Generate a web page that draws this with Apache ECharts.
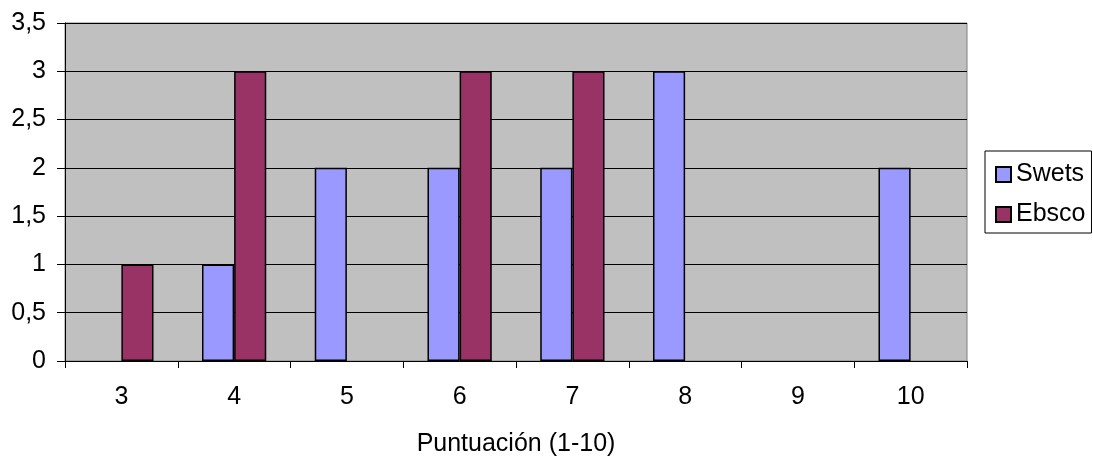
<!DOCTYPE html>
<html><head><meta charset="utf-8">
<script src="https://cdn.jsdelivr.net/npm/echarts@6/dist/echarts.min.js"></script>
<style>html,body{margin:0;padding:0;background:#fff}#c{width:1093px;height:462px}</style>
</head><body><div id="c"></div>
<script>
var categories = ['3','4','5','6','7','8','9','10'];
var swets = [0,1,2,2,2,3,0,2];
var ebsco = [1,3,0,3,3,0,0,0];
var yTicks = {min:0, max:3.5, interval:0.5};
var FONT = '"Liberation Sans", Arial, sans-serif';
var FS = 25;
function nz(a){return a.map(function(v){return v===0?null:v;});}
var chart = echarts.init(document.getElementById('c'));
chart.setOption({
  animation:false,
  grid:{left:65,right:126,top:23,bottom:98,show:true,backgroundColor:'#C0C0C0',borderColor:'#808080',borderWidth:1},
  legend:{
    orient:'vertical',left:985,top:151,
    padding:[11,6,6,10],itemGap:15,itemWidth:15,itemHeight:15,
    borderColor:'#000',borderWidth:1,backgroundColor:'#fff',
    textStyle:{fontFamily:FONT,fontSize:FS,color:'#000'},
    data:[{name:'Swets',icon:'rect'},{name:'Ebsco',icon:'rect'}]
  },
  xAxis:{
    type:'category',data:categories,
    name:'Puntuación (1-10)',nameLocation:'middle',nameGap:71,
    nameTextStyle:{fontFamily:FONT,fontSize:FS,color:'#000'},
    axisLine:{lineStyle:{color:'#000',width:1}},
    axisTick:{show:true,length:7,lineStyle:{color:'#000'}},
    axisLabel:{fontFamily:FONT,fontSize:FS,color:'#000',margin:24}
  },
  yAxis:{
    type:'value',min:yTicks.min,max:yTicks.max,interval:yTicks.interval,
    axisLine:{show:true,lineStyle:{color:'#000',width:1}},
    axisTick:{show:true,length:8,lineStyle:{color:'#000'}},
    splitLine:{lineStyle:{color:'#000',width:1}},
    axisLabel:{fontFamily:FONT,fontSize:FS,color:'#000',margin:19,
      formatter:function(v){return String(v).replace('.',',');}}
  },
  series:[
    {name:'Swets',type:'bar',data:nz(swets),barGap:'0%',barCategoryGap:'43%',
     itemStyle:{color:'#9999FF',borderColor:'#000',borderWidth:1.5}},
    {name:'Ebsco',type:'bar',data:nz(ebsco),barGap:'0%',barCategoryGap:'43%',
     itemStyle:{color:'#993366',borderColor:'#000',borderWidth:1.5}}
  ]
});
</script></body></html>
